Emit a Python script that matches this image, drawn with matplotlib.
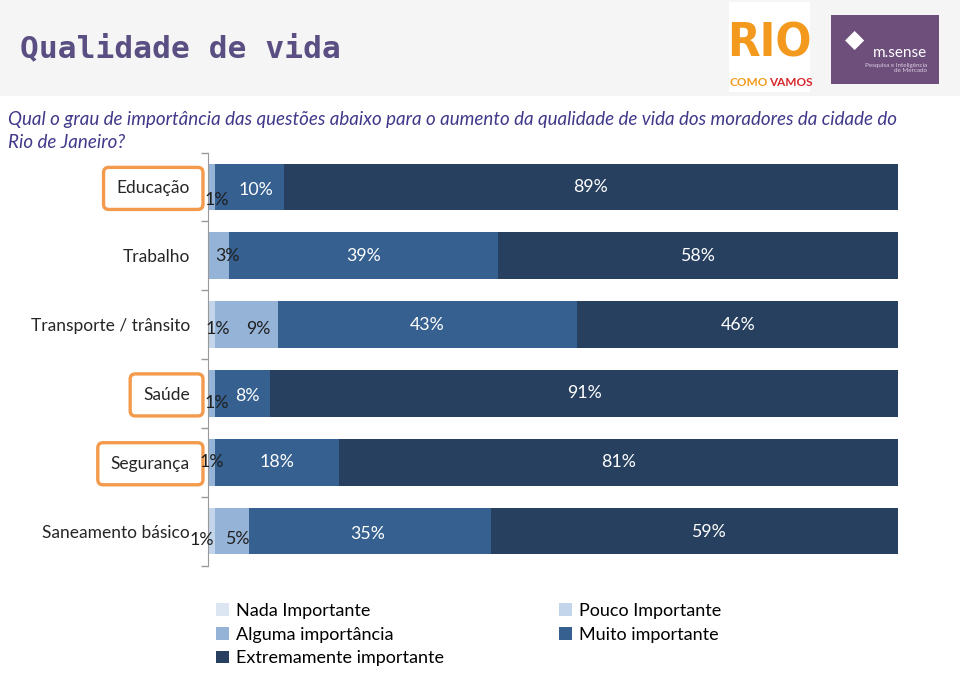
import numpy as np
import matplotlib
matplotlib.use('Agg')
from matplotlib import pyplot as plt
from matplotlib.patches import Rectangle, Patch

plt.rcParams['font.family'] = ['Lato', 'DejaVu Sans']

categories = ['Educação', 'Trabalho', 'Transporte / trânsito', 'Saúde', 'Segurança', 'Saneamento básico']
series = ['Nada Importante', 'Pouco Importante', 'Alguma importância', 'Muito importante', 'Extremamente importante']
nada = [0, 0, 0, 0, 0, 0]
pouco = [0, 0, 1, 0, 0, 1]
alguma = [1, 3, 9, 1, 1, 5]
muito = [10, 39, 43, 8, 18, 35]
extremo = [89, 58, 46, 91, 81, 59]
highlighted = ['Educação', 'Saúde', 'Segurança']

colors = ['#dce6f2', '#c3d5ea', '#95b3d7', '#35608f', '#27405f']
label_colors = ['#1f1f1f', '#1f1f1f', '#1f1f1f', 'white', 'white']

# manual nudges of the data labels (pixels, +y = down), like the hand-moved excel labels
nudges = {(0, 2): (5, 13), (0, 3): (6, 3),
          (1, 2): (9, 0),
          (2, 1): (6, 4), (2, 2): (12, 4),
          (3, 2): (5, 10), (3, 3): (5, 3),
          (5, 1): (-10, 9), (5, 2): (5, 8), (5, 3): (-3, 3), (5, 4): (14, 1)}

W, H = 960, 699
fig = plt.figure(figsize=(W / 100, H / 100), dpi=100)


def fx(x):
    return x / W


def fy(y):
    return 1 - y / H


# header band
fig.patches.append(Rectangle((0, fy(96)), 1, 96 / H, transform=fig.transFigure,
                             fc='#f5f5f5', ec='none', zorder=0))
fig.text(fx(20), fy(49), 'Qualidade de vida', family='DejaVu Sans Mono', weight='bold',
         fontsize=22.5, color='#5a4e82', va='center', ha='left')

# logos (rough)
fig.patches.append(Rectangle((fx(729), fy(92)), 81 / W, 90 / H, transform=fig.transFigure,
                             fc='white', ec='none'))
fig.text(fx(769), fy(44), 'RIO', family='DejaVu Sans', weight='bold', fontsize=34,
         color='#f39a1e', ha='center', va='center', stretch='condensed')
fig.text(fx(768), fy(82), 'COMO', weight='bold', fontsize=8.5, color='#f39a1e', ha='right', va='center')
fig.text(fx(769), fy(82), 'VAMOS', weight='bold', fontsize=8.5, color='#d8262a', ha='left', va='center')
fig.patches.append(Rectangle((fx(831), fy(84)), 108 / W, 69 / H, transform=fig.transFigure,
                             fc='#6e4f7c', ec='none'))
fig.text(fx(927), fy(53), 'm.sense', fontsize=11, color='white', ha='right', va='center')
fig.text(fx(927), fy(68), 'Pesquisa e Inteligência\nde Mercado', fontsize=4.5, color='#d9cde0',
         ha='right', va='center', linespacing=1.0)
fig.text(fx(855), fy(40), '◆', fontsize=18, color='white', ha='center', va='center',
         family='DejaVu Sans')

fig.text(fx(8), fy(119), 'Qual o grau de importância das questões abaixo para o aumento da qualidade de vida dos moradores da cidade do',
         style='italic', fontsize=13.5, color='#40398a', va='center')
fig.text(fx(8), fy(142), 'Rio de Janeiro?', style='italic', fontsize=13.5, color='#40398a', va='center')

ax = fig.add_axes([fx(208), fy(565.5), 690 / W, 413 / H])

data = np.array([nada, pouco, alguma, muito, extremo], dtype=float)
share = data / data.sum(axis=0) * 100
y = np.arange(len(categories))
left = np.zeros(len(categories))
for i, name in enumerate(series):
    ax.barh(y, share[i], left=left, height=0.68, color=colors[i], label=name, zorder=2)
    for j in range(len(categories)):
        if data[i, j] > 0:
            dx, dy = nudges.get((j, i), (0, 0))
            ax.annotate('%d%%' % data[i, j], (left[j] + share[i, j] / 2, y[j]),
                        xytext=(dx * 0.72, -dy * 0.72), textcoords='offset points',
                        ha='center', va='center', fontsize=12.8, color=label_colors[i], zorder=3)
    left += share[i]

ax.set_xlim(0, 100)
ax.set_ylim(len(categories) - 0.5, -0.5)
ax.set_xticks([])
ax.set_yticks(y)
ax.set_yticklabels(categories, fontsize=12.5, color='#262626')
ax.set_yticks(np.arange(-0.5, len(categories)), minor=True)
ax.tick_params(axis='y', which='major', length=0, pad=13)
ax.tick_params(axis='y', which='minor', length=5, color='#999999', width=1)
for s in ['top', 'right', 'bottom']:
    ax.spines[s].set_visible(False)
ax.spines['left'].set_color('#999999')

for lab in ax.get_yticklabels():
    if lab.get_text() in highlighted:
        lab.set_bbox(dict(boxstyle='round,pad=0.75,rounding_size=0.3', fc='none',
                          ec='#f39a4c', lw=2.4))

handles = [Patch(fc=c, ec='none') for c in colors]
order = [0, 2, 4, 1, 3]
fig.legend([handles[k] for k in order], [series[k] for k in order],
           loc='upper left', bbox_to_anchor=(fx(216), fy(603)), ncol=2, frameon=False,
           fontsize=13, handlelength=0.7, handleheight=0.7, handletextpad=0.4,
           columnspacing=6.4, labelspacing=0.42, borderaxespad=0, borderpad=0)

fig.savefig('out.png', dpi=100, facecolor='white')
